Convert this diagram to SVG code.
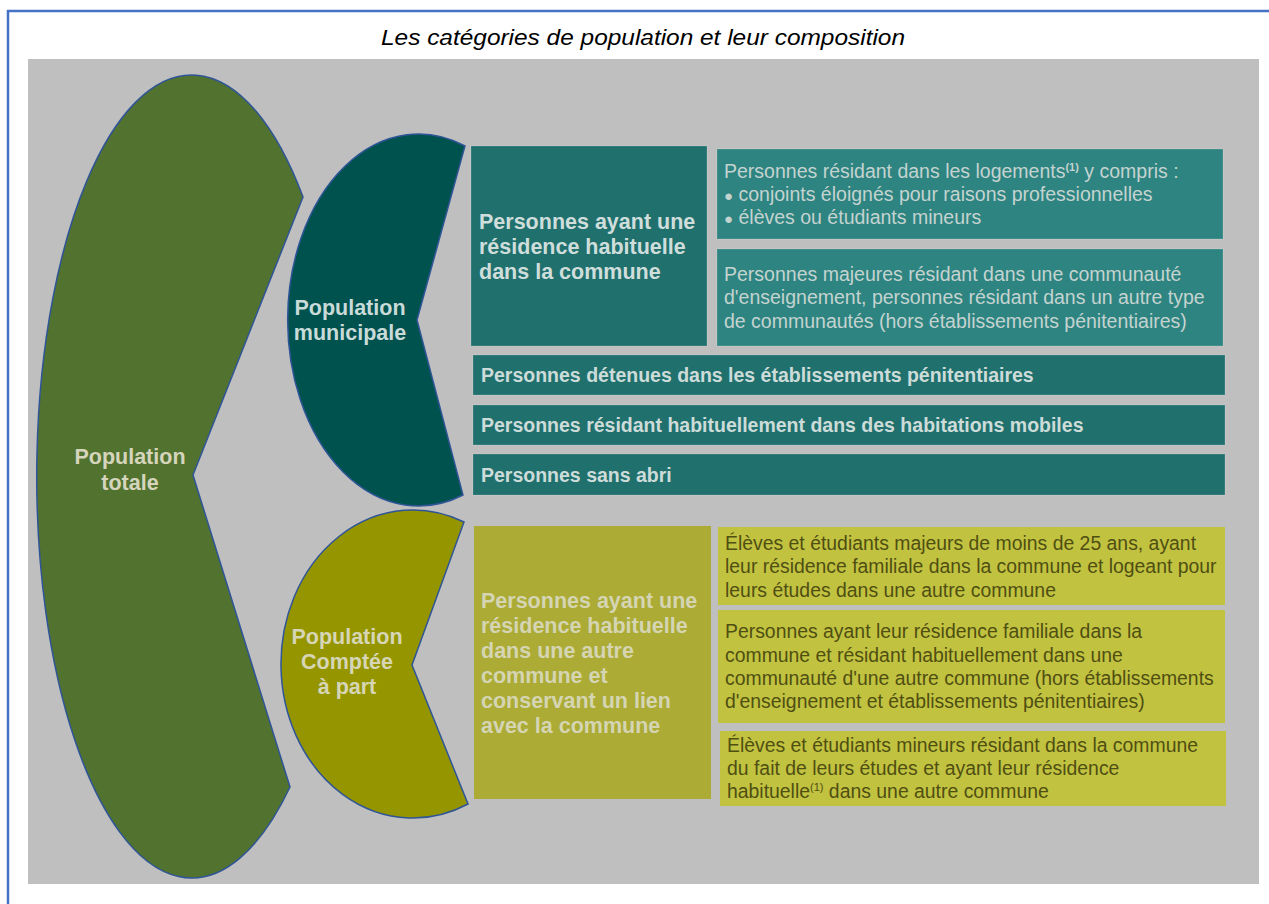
<svg xmlns="http://www.w3.org/2000/svg" width="1269" height="904" viewBox="0 0 1269 904">
<style>
  text { font-family: "Liberation Sans", Arial, sans-serif; }
  .shape { stroke: #2f5597; stroke-width: 1.5; }
  .lbl { font-weight: bold; font-size: 21.5px; text-anchor: middle; }
  .box { stroke: #ffffff; stroke-opacity: 0.18; stroke-width: 1; }
  .tb { font-weight: bold; font-size: 21.5px; }
  .bar { font-weight: bold; font-size: 19.5px; fill: #cddcd9; }
  .tr { font-size: 19.5px; fill: #c4d3d0; }
  .yr { font-size: 19.4px; fill: #4f4f12; }
  .bul { font-size: 15px; }
</style>
<rect x="0" y="0" width="1269" height="904" fill="#ffffff"/>
<path d="M7,11 H1269 M8,10 V904" fill="none" stroke="#4472c4" stroke-width="2.5"/>
<text x="643" y="45" font-size="22px" font-style="italic" text-anchor="middle" fill="#000000" textLength="524" lengthAdjust="spacingAndGlyphs">Les catégories de population et leur composition</text>
<rect x="28" y="59" width="1231" height="825" fill="#bfbfbf"/>

<g id="population-totale">
  <path class="shape" fill="#52722f" d="M303,197 A155,401.5 0 1 0 290,787 L193,475 Z"/>
  <text class="lbl" fill="#d5d5bd" x="130" y="464">Population</text>
  <text class="lbl" fill="#d5d5bd" x="130" y="490">totale</text>
</g>

<g id="population-municipale">
  <path class="shape" fill="#00524f" d="M465,146 A131,186 0 1 0 463,495 L417,320 Z"/>
  <text class="lbl" fill="#c9dbd8" x="350" y="315">Population</text>
  <text class="lbl" fill="#c9dbd8" x="350" y="340">municipale</text>
</g>

<g id="population-comptee-a-part">
  <path class="shape" fill="#959500" d="M464,522 A132,154 0 1 0 468,804 L412,665 Z"/>
  <text class="lbl" fill="#d6d6b6" x="347" y="644">Population</text>
  <text class="lbl" fill="#d6d6b6" x="347" y="669">Comptée</text>
  <text class="lbl" fill="#d6d6b6" x="347" y="694">à part</text>
</g>

<g id="residence-commune">
  <rect class="box" x="471" y="146" width="236" height="200" fill="#20706e"/>
  <text class="tb" fill="#cfdedb" x="479" y="229">Personnes ayant une</text>
  <text class="tb" fill="#cfdedb" x="479" y="254">résidence habituelle</text>
  <text class="tb" fill="#cfdedb" x="479" y="279">dans la commune</text>
</g>

<g id="logements">
  <rect class="box" x="717" y="149" width="506" height="90" fill="#2e8480"/>
  <text class="tr" x="724" y="178">Personnes résidant dans les logements<tspan font-size="11px" font-weight="bold" dy="-7">(1)</tspan><tspan dy="7"> y compris :</tspan></text>
  <text class="tr" x="724" y="201"><tspan class="bul">●</tspan> conjoints éloignés pour raisons professionnelles</text>
  <text class="tr" x="724" y="224"><tspan class="bul">●</tspan> élèves ou étudiants mineurs</text>
</g>

<g id="communautes">
  <rect class="box" x="717" y="249" width="506" height="97" fill="#2e8480"/>
  <text class="tr" x="724" y="281">Personnes majeures résidant dans une communauté</text>
  <text class="tr" x="724" y="304">d'enseignement, personnes résidant dans un autre type</text>
  <text class="tr" x="724" y="328">de communautés (hors établissements pénitentiaires)</text>
</g>

<g id="detenues">
  <rect class="box" x="473" y="355" width="752" height="40" fill="#20706e"/>
  <text class="bar" x="481" y="382">Personnes détenues dans les établissements pénitentiaires</text>
</g>

<g id="habitations-mobiles">
  <rect class="box" x="473" y="405" width="752" height="40" fill="#20706e"/>
  <text class="bar" x="481" y="432">Personnes résidant habituellement dans des habitations mobiles</text>
</g>

<g id="sans-abri">
  <rect class="box" x="473" y="454" width="752" height="41" fill="#20706e"/>
  <text class="bar" x="481" y="482">Personnes sans abri</text>
</g>

<g id="residence-autre-commune">
  <rect x="474" y="526" width="237" height="273" fill="#abab35"/>
  <text class="tb" fill="#d5d5b3" x="481" y="608">Personnes ayant une</text>
  <text class="tb" fill="#d5d5b3" x="481" y="633">résidence habituelle</text>
  <text class="tb" fill="#d5d5b3" x="481" y="658">dans une autre</text>
  <text class="tb" fill="#d5d5b3" x="481" y="683">commune et</text>
  <text class="tb" fill="#d5d5b3" x="481" y="708">conservant un lien</text>
  <text class="tb" fill="#d5d5b3" x="481" y="733">avec la commune</text>
</g>

<g id="etudiants-majeurs">
  <rect x="718" y="527" width="507" height="78" fill="#c2c241"/>
  <text class="yr" x="725" y="550">Élèves et étudiants majeurs de moins de 25 ans, ayant</text>
  <text class="yr" x="725" y="573">leur résidence familiale dans la commune et logeant pour</text>
  <text class="yr" x="725" y="597">leurs études dans une autre commune</text>
</g>

<g id="residence-familiale">
  <rect x="718" y="610" width="507" height="113" fill="#c2c241"/>
  <text class="yr" x="725" y="638">Personnes ayant leur résidence familiale dans la</text>
  <text class="yr" x="725" y="662">commune et résidant habituellement dans une</text>
  <text class="yr" x="725" y="685">communauté d'une autre commune (hors établissements</text>
  <text class="yr" x="725" y="708">d'enseignement et établissements pénitentiaires)</text>
</g>

<g id="etudiants-mineurs">
  <rect x="720" y="731" width="506" height="75" fill="#c2c241"/>
  <text class="yr" x="727" y="752">Élèves et étudiants mineurs résidant dans la commune</text>
  <text class="yr" x="727" y="775">du fait de leurs études et ayant leur résidence</text>
  <text class="yr" x="727" y="798">habituelle<tspan font-size="11px" dy="-7">(1)</tspan><tspan dy="7"> dans une autre commune</tspan></text>
</g>
</svg>
